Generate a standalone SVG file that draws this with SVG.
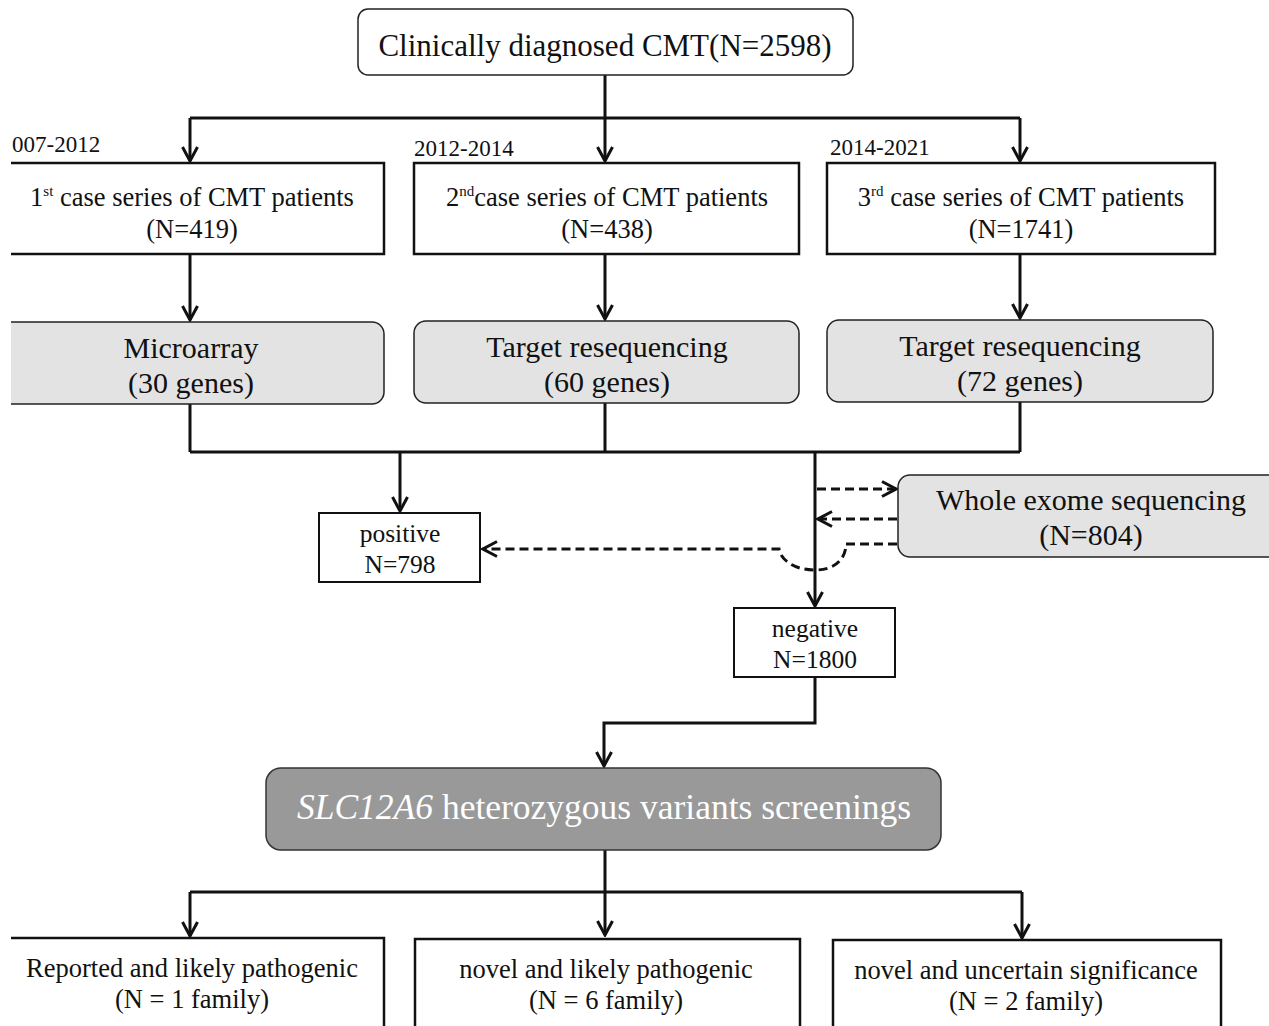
<svg xmlns="http://www.w3.org/2000/svg" width="1269" height="1026" viewBox="0 0 1269 1026">
<style>
text{font-family:"Liberation Serif","Times New Roman",serif;fill:#111;text-anchor:middle}
.yr{text-anchor:start;font-size:23px}
.box{fill:#fff;stroke:#111;stroke-width:2.5}
.rbox{fill:#fff;stroke:#222;stroke-width:1.5}
.gbox{fill:#e3e3e3;stroke:#222;stroke-width:1.5}
.dbox{fill:#999;stroke:#333;stroke-width:1.5}
.c{fill:none;stroke:#111;stroke-width:3}
.d{fill:none;stroke:#111;stroke-width:3;stroke-dasharray:9 5}
.t26{font-size:26.5px}
.t30{font-size:30px}
.t25{font-size:25.5px}
.tb{font-size:26.5px}
</style>
<defs>
<marker id="arr" markerUnits="userSpaceOnUse" viewBox="-16 -10 18 20" markerWidth="18" markerHeight="20" refX="0" refY="0" orient="auto">
<path d="M-14,-7.5 L0,0 L-14,7.5" fill="none" stroke="#111" stroke-width="3"/>
</marker>
<clipPath id="cl"><rect x="11" y="0" width="1258" height="1026"/></clipPath>
</defs>

<g id="connectors">
<path class="c" d="M605,75 V161" marker-end="url(#arr)"/>
<path class="c" d="M190,118 H1020"/>
<path class="c" d="M190,118 V161" marker-end="url(#arr)"/>
<path class="c" d="M1020,118 V161" marker-end="url(#arr)"/>
<path class="c" d="M190,254 V320" marker-end="url(#arr)"/>
<path class="c" d="M605,254 V319" marker-end="url(#arr)"/>
<path class="c" d="M1020,254 V318" marker-end="url(#arr)"/>
<path class="c" d="M190,404 V452 M605,403 V452 M1020,402 V452 M190,452 H1020"/>
<path class="c" d="M400,452 V511" marker-end="url(#arr)"/>
<path class="c" d="M815,452 V606" marker-end="url(#arr)"/>
<path class="d" d="M817,489 H896" marker-end="url(#arr)"/>
<path class="d" d="M897,519 H818" marker-end="url(#arr)"/>
<path class="d" d="M897,544 H846 C846,556 838,570 815,570 C792,570 780,558 779,549 H483" marker-end="url(#arr)"/>
<path class="c" d="M815,677 V723 H604 V766" marker-end="url(#arr)"/>
<path class="c" d="M605,850 V935" marker-end="url(#arr)"/>
<path class="c" d="M190,892 H1022"/>
<path class="c" d="M190,892 V936" marker-end="url(#arr)"/>
<path class="c" d="M1022,892 V938" marker-end="url(#arr)"/>
</g>

<g id="n-top">
<rect class="rbox" x="358" y="9" width="495" height="66" rx="10"/>
<text x="605" y="56" style="font-size:31px">Clinically diagnosed CMT(N=2598)</text>
</g>

<g id="labels">
<text class="yr" x="12" y="152">007-2012</text>
<text class="yr" x="414" y="156">2012-2014</text>
<text class="yr" x="830" y="155">2014-2021</text>
</g>

<g id="n-series1" clip-path="url(#cl)">
<rect class="box" x="-20" y="163" width="404" height="91"/>
<text class="t26" x="192" y="206">1<tspan font-size="15" dy="-10">st</tspan><tspan dy="10"> case series of CMT patients</tspan></text>
<text class="t26" x="192" y="238">(N=419)</text>
</g>
<g id="n-series2">
<rect class="box" x="414" y="163" width="385" height="91"/>
<text class="t26" x="607" y="206">2<tspan font-size="15" dy="-10">nd</tspan><tspan dy="10">case series of CMT patients</tspan></text>
<text class="t26" x="607" y="238">(N=438)</text>
</g>
<g id="n-series3">
<rect class="box" x="827" y="163" width="388" height="91"/>
<text class="t26" x="1021" y="206">3<tspan font-size="15" dy="-10">rd</tspan><tspan dy="10"> case series of CMT patients</tspan></text>
<text class="t26" x="1021" y="238">(N=1741)</text>
</g>

<g id="n-micro" clip-path="url(#cl)">
<rect class="gbox" x="-20" y="322" width="404" height="82" rx="12"/>
<text class="t30" x="191" y="358">Microarray</text>
<text class="t30" x="191" y="393">(30 genes)</text>
</g>
<g id="n-target60">
<rect class="gbox" x="414" y="321" width="385" height="82" rx="12"/>
<text class="t30" x="607" y="357">Target resequencing</text>
<text class="t30" x="607" y="392">(60 genes)</text>
</g>
<g id="n-target72">
<rect class="gbox" x="827" y="320" width="386" height="82" rx="12"/>
<text class="t30" x="1020" y="356">Target resequencing</text>
<text class="t30" x="1020" y="391">(72 genes)</text>
</g>

<g id="n-wes">
<rect class="gbox" x="898" y="475" width="400" height="82" rx="12"/>
<text class="t30" x="1091" y="510">Whole exome sequencing</text>
<text class="t30" x="1091" y="545">(N=804)</text>
</g>

<g id="n-positive">
<rect class="box" x="319" y="513" width="161" height="69" style="stroke-width:2"/>
<text class="t25" x="400" y="542">positive</text>
<text class="t25" x="400" y="573">N=798</text>
</g>

<g id="n-negative">
<rect class="box" x="734" y="608" width="161" height="69" style="stroke-width:2"/>
<text class="t25" x="815" y="637">negative</text>
<text class="t25" x="815" y="668">N=1800</text>
</g>

<g id="n-slc">
<rect class="dbox" x="266" y="768" width="675" height="82" rx="15"/>
<text x="604" y="819" style="font-size:35.5px;fill:#fff"><tspan font-style="italic">SLC12A6</tspan> heterozygous variants screenings</text>
</g>

<g id="n-res1" clip-path="url(#cl)">
<rect class="box" x="-20" y="938" width="404" height="100"/>
<text class="tb" x="192" y="977">Reported and likely pathogenic</text>
<text class="tb" x="192" y="1008">(N = 1 family)</text>
</g>
<g id="n-res2">
<rect class="box" x="415" y="939" width="385" height="100"/>
<text class="tb" x="606" y="978">novel and likely pathogenic</text>
<text class="tb" x="606" y="1009">(N = 6 family)</text>
</g>
<g id="n-res3">
<rect class="box" x="833" y="940" width="388" height="100"/>
<text class="tb" x="1026" y="979">novel and uncertain significance</text>
<text class="tb" x="1026" y="1010">(N = 2 family)</text>
</g>
</svg>
